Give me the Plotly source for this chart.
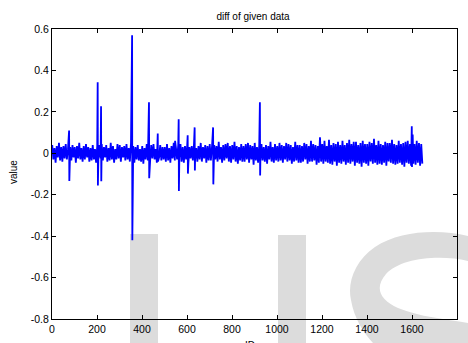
import plotly.graph_objects as go

# ---- data ----
noise_start = 1
noise_step = 5
noise_vals = [
    0.04, -0.03, 0.025, -0.045, 0.035, -0.02, 0.05, -0.035, 0.03, -0.04,
    0.035, -0.025, 0.045, -0.03, 0.02, -0.04, 0.03, -0.035, 0.04, -0.02,
    0.03, -0.045, 0.035, -0.025, 0.05, -0.03, 0.025, -0.04, 0.035, -0.03,
    0.045, -0.02, 0.03, -0.04, 0.025, -0.035, 0.04, -0.03, 0.02, -0.045,
    0.035, -0.03, 0.04, -0.025, 0.045, -0.035, 0.03, -0.02, 0.04, -0.04,
    0.025, -0.035, 0.05, -0.03, 0.035, -0.045, 0.02, -0.03, 0.045, -0.025,
    0.04, -0.04, 0.03, -0.02, 0.035, -0.035, 0.045, -0.03, 0.025, -0.04,
    0.05, -0.025, 0.035, -0.045, 0.03, -0.03, 0.04, -0.035, 0.02, -0.04,
    0.035, -0.05, 0.025, -0.03, 0.045, -0.035, 0.03, -0.04, 0.04, -0.025,
    0.045, -0.03, 0.02, -0.045, 0.035, -0.02, 0.04, -0.035, 0.03, -0.03,
    0.03, -0.04, 0.045, -0.035, 0.025, -0.045, 0.035, -0.025, 0.05, -0.035,
    0.025, -0.03, 0.04, -0.02, 0.045, -0.04, 0.03, -0.045, 0.035, -0.03,
    0.04, -0.05, 0.03, -0.025, 0.035, -0.035, 0.045, -0.03, 0.025, -0.04,
    0.035, -0.03, 0.05, -0.04, 0.03, -0.025, 0.04, -0.045, 0.035, -0.035,
    0.045, -0.035, 0.03, -0.05, 0.04, -0.03, 0.035, -0.04, 0.055, -0.03,
    0.03, -0.045, 0.04, -0.035, 0.045, -0.025, 0.05, -0.04, 0.035, -0.045,
    0.04, -0.03, 0.055, -0.04, 0.035, -0.05, 0.03, -0.035, 0.045, -0.04,
    0.035, -0.04, 0.045, -0.03, 0.05, -0.045, 0.04, -0.03, 0.035, -0.055,
    0.05, -0.035, 0.03, -0.045, 0.04, -0.04, 0.045, -0.035, 0.03, -0.04,
    0.04, -0.05, 0.035, -0.03, 0.055, -0.04, 0.03, -0.045, 0.045, -0.035,
    0.035, -0.04, 0.05, -0.035, 0.04, -0.045, 0.035, -0.03, 0.05, -0.04,
    0.045, -0.035, 0.04, -0.05, 0.03, -0.04, 0.055, -0.035, 0.04, -0.045,
    0.04, -0.045, 0.035, -0.04, 0.05, -0.03, 0.045, -0.05, 0.035, -0.04,
    0.06, -0.04, 0.045, -0.035, 0.04, -0.055, 0.035, -0.045, 0.05, -0.04,
    0.045, -0.05, 0.06, -0.04, 0.035, -0.045, 0.065, -0.05, 0.04, -0.055,
    0.05, -0.04, 0.045, -0.06, 0.055, -0.045, 0.04, -0.05, 0.06, -0.04,
    0.04, -0.055, 0.05, -0.045, 0.065, -0.05, 0.045, -0.04, 0.055, -0.06,
    0.055, -0.045, 0.04, -0.05, 0.05, -0.065, 0.06, -0.045, 0.045, -0.05,
    0.045, -0.06, 0.055, -0.04, 0.05, -0.05, 0.07, -0.045, 0.04, -0.055,
    0.06, -0.05, 0.045, -0.055, 0.04, -0.045, 0.055, -0.06, 0.05, -0.04,
    0.05, -0.045, 0.065, -0.05, 0.045, -0.055, 0.04, -0.05, 0.06, -0.045,
    0.045, -0.055, 0.05, -0.065, 0.055, -0.045, 0.06, -0.05, 0.045, -0.06,
    0.055, -0.05, 0.045, -0.055, 0.06, -0.045, 0.05, -0.06, 0.045, -0.05,
]

spike_ids = [76, 77, 203, 204, 218, 219, 356, 357, 431, 432, 470, 471, 547,
             563, 564, 603, 604, 634, 635, 716, 717, 924, 925, 1191,
             1599, 1600, 1603]
spike_vals = [0.11, -0.134, 0.343, -0.155, 0.227, -0.135, 0.57, -0.42,
              0.246, -0.12, 0.095, -0.04, 0.06, 0.164, -0.182, 0.087, -0.098,
              0.125, -0.083, 0.125, -0.15, 0.246, -0.107, 0.077,
              0.13, -0.066, 0.09]

x_ticks = [0, 200, 400, 600, 800, 1000, 1200, 1400, 1600, 1800]
y_ticks = [-0.8, -0.6, -0.4, -0.2, 0, 0.2, 0.4, 0.6]
y_ticktext = ["-0.8", "-0.6", "-0.4", "-0.2", "0", "0.2", "0.4", "0.6"]

# ---- build series ----
points = {}
for i, v in enumerate(noise_vals):
    points[noise_start + i * noise_step] = v
for i, v in zip(spike_ids, spike_vals):
    points[i] = v
xs = sorted(points)
ys = [points[k] for k in xs]

fig = go.Figure()
fig.add_trace(go.Scatter(x=xs, y=ys, mode="lines",
                         line=dict(color="#0000ff", width=1.8, simplify=False),
                         showlegend=False, hoverinfo="skip"))

font = dict(family="Liberation Sans, Arial, Helvetica, sans-serif", color="black")

axis_common = dict(showline=True, linecolor="black", linewidth=1.3, mirror="ticks",
                   ticks="inside", ticklen=4, tickcolor="black", tickwidth=1,
                   showgrid=False, zeroline=False, automargin=False,
                   tickfont=dict(size=10.5, **font))

fig.update_xaxes(range=[0, 1800], tickvals=x_ticks,
                 ticktext=[str(t) for t in x_ticks], **axis_common)
fig.update_yaxes(range=[-0.8, 0.6], tickvals=y_ticks, ticktext=y_ticktext,
                 **axis_common)

W, H = 468, 343
PW, PH, L, T = 405, 290, 52, 29


def px_x(p):
    return (p - L) / PW


def px_y(p):
    return (T + PH - p) / PH


def pt(x, y):
    return f"{px_x(x):.5f},{px_y(y):.5f}"


# light-grey "IJS" watermark behind the chart
wm = "#dcdcdc"
fig.add_shape(type="rect", xref="paper", yref="paper", layer="below",
              x0=px_x(130), x1=px_x(158), y0=px_y(343), y1=px_y(234),
              line=dict(width=0), fillcolor=wm)
fig.add_shape(type="rect", xref="paper", yref="paper", layer="below",
              x0=px_x(278), x1=px_x(306), y0=px_y(343), y1=px_y(235),
              line=dict(width=0), fillcolor=wm)
s_path = (
    f"M {pt(468, 236)} C {pt(440, 229)} {pt(400, 230)} {pt(375, 247)} "
    f"C {pt(355, 261)} {pt(347, 282)} {pt(351, 300)} "
    f"C {pt(354, 318)} {pt(363, 332)} {pt(373, 343)} "
    f"L {pt(468, 343)} Z "
    f"M {pt(468, 261)} C {pt(440, 254)} {pt(400, 258)} {pt(386, 274)} "
    f"C {pt(374, 288)} {pt(380, 300)} {pt(398, 308)} "
    f"C {pt(420, 317)} {pt(445, 319)} {pt(468, 323)} Z"
)
fig.add_shape(type="path", xref="paper", yref="paper", layer="below",
              path=s_path, line=dict(width=0), fillcolor=wm, fillrule="evenodd")

fig.update_layout(
    width=W, height=H,
    margin=dict(l=52, r=11, t=29, b=24, autoexpand=False),
    paper_bgcolor="white", plot_bgcolor="rgba(0,0,0,0)",
    title=dict(text="diff of given data", x=253 / W, xanchor="center",
               y=1 - 16 / H, yanchor="middle", yref="container",
               font=dict(size=10, **font)),
    annotations=[
        dict(text="ID", xref="paper", yref="paper", x=px_x(250),
             y=0, yanchor="top", yshift=-19, showarrow=False,
             font=dict(size=10, **font)),
        dict(text="value", xref="paper", yref="paper", x=0, xanchor="center",
             xshift=-39, y=px_y(172), textangle=-90, showarrow=False,
             font=dict(size=10, **font)),
    ],
)

fig.write_html("out.html", config={"displayModeBar": False},
               post_script="document.body.style.margin='0';"
                           "document.body.style.overflow='hidden';")
